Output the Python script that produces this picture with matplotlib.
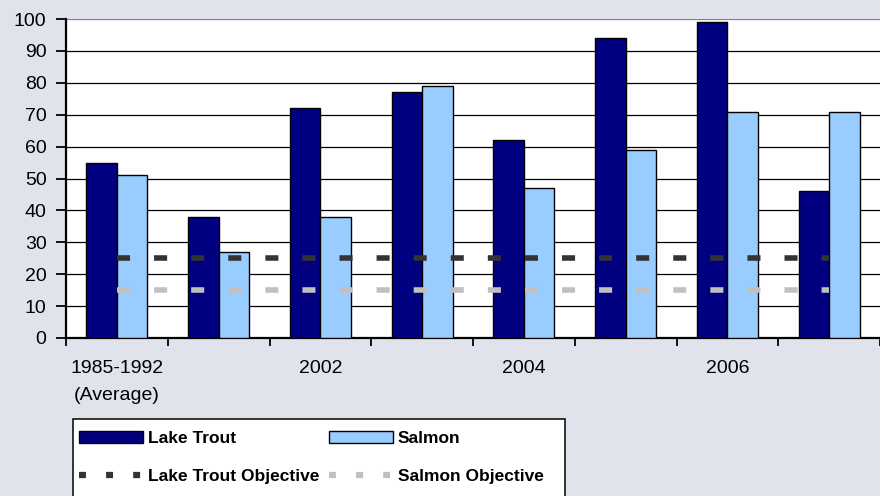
import matplotlib
matplotlib.use("Agg")
import matplotlib.pyplot as plt
import numpy as np
from matplotlib.patches import Patch, Rectangle
from matplotlib.lines import Line2D
from matplotlib import font_manager

categories = ["1985-1992\n(Average)", "2001", "2002", "2003", "2004", "2005", "2006", "2007"]
shown_labels = ["1985-1992\n(Average)", "", "2002", "", "2004", "", "2006", ""]
lake_trout = [55, 38, 72, 77, 62, 94, 99, 46]
salmon = [51, 27, 38, 79, 47, 59, 71, 71]
lake_trout_objective = [25] * len(categories)
salmon_objective = [15] * len(categories)
yticks = list(range(0, 101, 10))

plt.rcParams['font.family'] = ['Liberation Sans', 'DejaVu Sans']
plt.rcParams['lines.scale_dashes'] = False

names = {f.name for f in font_manager.fontManager.ttflist}
leg_family = ['Liberation Sans Narrow', 'Liberation Sans'] if 'Liberation Sans Narrow' in names else ['Liberation Sans']
leg_size = 14.5 if 'Liberation Sans Narrow' in names else 12.5

bg = '#e0e3ec'
navy = '#000080'
light = '#99ccff'
dark_obj = '#333333'
light_obj = '#c0c0c0'

fig = plt.figure(figsize=(8.8, 4.96), dpi=100, facecolor=bg)
ax = fig.add_axes([66/880, 1 - 338/496, 1 - 66/880, (338 - 19)/496])
ax.set_facecolor('white')

x = np.arange(len(categories))
w = 0.30
ax.bar(x - w/2, lake_trout, width=w, color=navy, edgecolor='black', linewidth=1.0, zorder=3)
ax.bar(x + w/2, salmon, width=w, color=light, edgecolor='black', linewidth=1.0, zorder=3)

dash = (0, (9.4, 17.3))
ax.plot(x, lake_trout_objective, color=dark_obj, lw=4, linestyle=dash,
        dash_capstyle='butt', zorder=4)
ax.plot(x, salmon_objective, color=light_obj, lw=4, linestyle=dash,
        dash_capstyle='butt', zorder=4)

ax.set_xlim(-0.5, len(categories) - 0.5)
ax.set_ylim(0, 100)
ax.set_yticks(yticks)
for yv in yticks[1:-1]:
    ax.axhline(yv, color='black', lw=0.9, zorder=1)
ax.axhline(100, color='#808080', lw=1.6, zorder=1)

ax.set_xticks(x)
ax.set_xticklabels(shown_labels, fontsize=14, linespacing=1.75)
ax.set_xticks(np.arange(-0.5, len(categories), 1.0), minor=True)
ax.tick_params(axis='x', which='major', length=0, pad=16)
ax.tick_params(axis='x', which='minor', length=6, width=1.3, direction='out', color='black')
ax.tick_params(axis='y', length=7, width=1.3, direction='out', pad=7, labelsize=14)

for s in ['top', 'right']:
    ax.spines[s].set_visible(False)
ax.spines['left'].set_linewidth(1.6)
ax.spines['bottom'].set_linewidth(1.6)

# legend frame
fig.patches.append(Rectangle((73/880, -0.1), 492/880, (496 - 419)/496 + 0.1,
                             transform=fig.transFigure, facecolor='white',
                             edgecolor='black', lw=1.1, zorder=0))

handles = [
    Patch(facecolor=navy, edgecolor='black', lw=1.0),
    Line2D([], [], color=dark_obj, lw=4.5, linestyle=(0, (5, 14.5)), dash_capstyle='butt'),
    Patch(facecolor=light, edgecolor='black', lw=1.0),
    Line2D([], [], color=light_obj, lw=4.5, linestyle=(0, (5, 14.5)), dash_capstyle='butt'),
]
labels = ["Lake Trout", "Lake Trout Objective", "Salmon", "Salmon Objective"]
leg = fig.legend(handles, labels, ncol=2, loc='upper left', bbox_to_anchor=(79/880, 1 - 431/496),
                 frameon=False, borderpad=0, borderaxespad=0, handlelength=3.7, handletextpad=0.27,
                 columnspacing=0.55, labelspacing=1.3,
                 prop={'family': leg_family, 'weight': 'bold', 'size': leg_size})

fig.savefig('out.png', dpi=100, facecolor=bg)
